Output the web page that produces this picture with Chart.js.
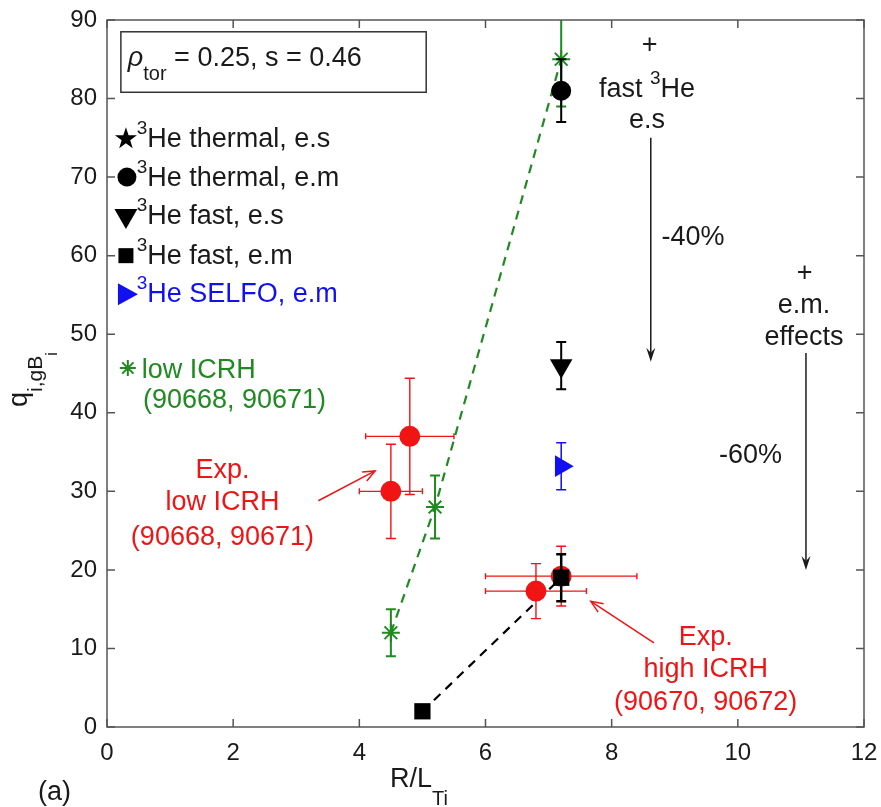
<!DOCTYPE html>
<html>
<head>
<meta charset="utf-8">
<title>Ion heat flux vs R/L_Ti</title>
<script src="https://cdn.jsdelivr.net/npm/chart.js@4.4.1/dist/chart.umd.min.js"></script>
<style>
  html, body { margin: 0; padding: 0; background: #fff; }
  canvas { display: block; }
</style>
</head>
<body>
<canvas id="chart" width="881" height="807"></canvas>
<script>
// ---- axis ticks ----
const xTicks = [0, 2, 4, 6, 8, 10, 12];
const yTicks = [0, 10, 20, 30, 40, 50, 60, 70, 80, 90];

// ---- GENE, low ICRH (90668, 90671) ----
const lowIcrhX = [4.5, 5.2, 7.2];
const lowIcrhY = [12, 28, 85];
const lowIcrhErr = [3, 4, 6];

// ---- experiment, low ICRH ----
const expLowX = [4.5, 4.8];
const expLowY = [30, 37];
const expLowXErr = [0.5, 0.7];
const expLowYErr = [6, 7.4];

// ---- experiment, high ICRH ----
const expHighX = [6.8, 7.2];
const expHighY = [17.3, 19.2];
const expHighXErr = [0.8, 1.2];
const expHighYErr = [3.5, 3.8];

// ---- 3He thermal, e.m ----
const thermalEmX = [7.2];
const thermalEmY = [81];
const thermalEmErr = [4];

// ---- 3He fast, e.s ----
const fastEsX = [7.2];
const fastEsY = [46];
const fastEsErr = [3];

// ---- 3He fast, e.m ----
const fastEmX = [5.0, 7.2];
const fastEmY = [2, 19];
const fastEmErr = [0, 3];

// ---- 3He SELFO, e.m ----
const selfoX = [7.2];
const selfoY = [33.2];
const selfoErr = [3];

const RED = '#f01414';
const GREEN = '#1f8a1f';
const BLUE = '#1010f0';
const INK = '#1a1a1a';
const AXIS = '#555';
const FAMILY = '"Liberation Sans", Arial, Helvetica, sans-serif';

const pts = (xs, ys) => xs.map((x, i) => ({ x, y: ys[i] }));
const font = r => `${r.italic ? 'italic ' : ''}${r.size}px ${FAMILY}`;

// draw a row of text pieces (sub/superscripts via dy)
function drawRuns(ctx, runs, x, y, align, color) {
  let w = 0;
  runs.forEach(r => { ctx.font = font(r); r.w = ctx.measureText(r.t).width; w += r.w; });
  let cx = align === 'center' ? x - w / 2 : x;
  ctx.fillStyle = color;
  ctx.textAlign = 'left';
  ctx.textBaseline = 'alphabetic';
  runs.forEach(r => {
    ctx.font = font(r);
    ctx.fillText(r.t, cx, y + (r.dy || 0));
    cx += r.w;
  });
}

function arrow(ctx, x1, y1, x2, y2, color, filled) {
  const a = Math.atan2(y2 - y1, x2 - x1);
  const len = filled ? 14 : 12, half = filled ? 4.5 : 5;
  ctx.save();
  ctx.strokeStyle = color;
  ctx.fillStyle = color;
  ctx.lineWidth = 1.5;
  ctx.beginPath();
  ctx.moveTo(x1, y1);
  ctx.lineTo(filled ? x2 - Math.cos(a) * 6 : x2, filled ? y2 - Math.sin(a) * 6 : y2);
  ctx.stroke();
  const bx = x2 - Math.cos(a) * len, by = y2 - Math.sin(a) * len;
  const nx = -Math.sin(a) * half, ny = Math.cos(a) * half;
  ctx.beginPath();
  if (filled) {
    ctx.moveTo(x2, y2);
    ctx.lineTo(bx + nx, by + ny);
    ctx.lineTo(x2 - Math.cos(a) * 9, y2 - Math.sin(a) * 9);
    ctx.lineTo(bx - nx, by - ny);
    ctx.closePath();
    ctx.fill();
  } else {
    ctx.moveTo(bx + nx, by + ny);
    ctx.lineTo(x2, y2);
    ctx.lineTo(bx - nx, by - ny);
    ctx.stroke();
  }
  ctx.restore();
}

// error bars under each dataset's markers
const errorBars = {
  id: 'errorBars',
  beforeDatasetDraw(chart, args) {
    const ds = chart.data.datasets[args.index];
    if (!ds.yErr && !ds.xErr) return;
    const { ctx, chartArea: ca, scales: { x, y } } = chart;
    ctx.save();
    ctx.beginPath();
    ctx.rect(ca.left, ca.top, ca.width, ca.height);
    ctx.clip();
    ctx.strokeStyle = ds.errColor;
    ctx.lineWidth = ds.errWidth || 1.5;
    ds.data.forEach((p, i) => {
      const px = x.getPixelForValue(p.x), py = y.getPixelForValue(p.y);
      ctx.beginPath();
      if (ds.yErr && ds.yErr[i]) {
        const t = y.getPixelForValue(p.y + ds.yErr[i]);
        const b = y.getPixelForValue(p.y - ds.yErr[i]);
        ctx.moveTo(px, t); ctx.lineTo(px, b);
        ctx.moveTo(px - 5, t); ctx.lineTo(px + 5, t);
        ctx.moveTo(px - 5, b); ctx.lineTo(px + 5, b);
      }
      if (ds.xErr && ds.xErr[i]) {
        const l = x.getPixelForValue(p.x - ds.xErr[i]);
        const r = x.getPixelForValue(p.x + ds.xErr[i]);
        ctx.moveTo(l, py); ctx.lineTo(r, py);
        ctx.moveTo(l, py - 3); ctx.lineTo(l, py + 3);
        ctx.moveTo(r, py - 3); ctx.lineTo(r, py + 3);
      }
      ctx.stroke();
    });
    ctx.restore();
  }
};

// boxed axes with inward ticks on all four sides
const frame = {
  id: 'frame',
  afterDatasetsDraw(chart) {
    const { ctx, chartArea: ca, scales: { x, y } } = chart;
    ctx.save();
    ctx.strokeStyle = AXIS;
    ctx.lineWidth = 1.5;
    ctx.strokeRect(ca.left, ca.top, ca.width, ca.height);
    ctx.beginPath();
    x.ticks.forEach(t => {
      const px = x.getPixelForValue(t.value);
      ctx.moveTo(px, ca.bottom); ctx.lineTo(px, ca.bottom - 8);
      ctx.moveTo(px, ca.top); ctx.lineTo(px, ca.top + 8);
    });
    y.ticks.forEach(t => {
      const py = y.getPixelForValue(t.value);
      ctx.moveTo(ca.left, py); ctx.lineTo(ca.left + 8, py);
      ctx.moveTo(ca.right, py); ctx.lineTo(ca.right - 8, py);
    });
    ctx.stroke();
    ctx.restore();
  }
};

// text, legend glyphs and arrows
const notes = {
  id: 'notes',
  afterDraw(chart) {
    const { ctx, scales: { x, y } } = chart;
    const X = v => x.getPixelForValue(v), Y = v => y.getPixelForValue(v);

    // parameter box
    ctx.save();
    ctx.strokeStyle = '#333';
    ctx.lineWidth = 1.5;
    ctx.strokeRect(X(0.22), Y(88.5), X(5.06) - X(0.22), Y(80.8) - Y(88.5));
    ctx.restore();
    drawRuns(ctx, [
      { t: '\u03C1', size: 27, italic: true },
      { t: 'tor', size: 20, dy: 14 },
      { t: ' = 0.25, s = 0.46', size: 27 }
    ], X(0.33), Y(84.2), 'left', INK);

    // legend glyphs
    const gx = X(0.30);
    ctx.save();
    ctx.fillStyle = '#000';
    // five-point star
    let cy = Y(75.0);
    ctx.beginPath();
    for (let k = 0; k < 10; k++) {
      const r = k % 2 ? 4.5 : 11.5;
      const a = -Math.PI / 2 + k * Math.PI / 5;
      ctx.lineTo(gx + r * Math.cos(a), cy + 1 + r * Math.sin(a));
    }
    ctx.closePath();
    ctx.fill();
    // circle
    ctx.beginPath();
    ctx.arc(gx + 1, Y(70.0), 9.5, 0, Math.PI * 2);
    ctx.fill();
    // down triangle
    cy = Y(64.8);
    ctx.beginPath();
    ctx.moveTo(gx - 11.5, cy - 9);
    ctx.lineTo(gx + 11.5, cy - 9);
    ctx.lineTo(gx, cy + 11);
    ctx.closePath();
    ctx.fill();
    // square
    cy = Y(60.0);
    ctx.fillRect(gx - 7.5, cy - 7.5, 15, 15);
    // blue right triangle
    cy = Y(55.1);
    ctx.fillStyle = BLUE;
    ctx.beginPath();
    ctx.moveTo(gx - 8, cy - 11);
    ctx.lineTo(gx + 12, cy);
    ctx.lineTo(gx - 8, cy + 11);
    ctx.closePath();
    ctx.fill();
    ctx.restore();

    const legendRows = [
      ['He thermal, e.s', 73.8, INK],
      ['He thermal, e.m', 68.9, INK],
      ['He fast, e.s', 64.0, INK],
      ['He fast, e.m', 59.0, INK],
      ['He SELFO, e.m', 54.1, BLUE]
    ];
    legendRows.forEach(([t, v, c]) => {
      drawRuns(ctx, [{ t: '3', size: 19, dy: -13 }, { t, size: 27 }], X(0.47), Y(v), 'left', c);
    });

    // low ICRH (green) label
    ctx.save();
    ctx.strokeStyle = GREEN;
    ctx.lineWidth = 2;
    const ax = X(0.33), ay = Y(45.7);
    ctx.beginPath();
    for (let k = 0; k < 4; k++) {
      const a = k * Math.PI / 4;
      ctx.moveTo(ax - 8 * Math.cos(a), ay - 8 * Math.sin(a));
      ctx.lineTo(ax + 8 * Math.cos(a), ay + 8 * Math.sin(a));
    }
    ctx.stroke();
    ctx.restore();
    drawRuns(ctx, [{ t: 'low ICRH', size: 27 }], X(0.55), Y(44.4), 'left', GREEN);
    drawRuns(ctx, [{ t: '(90668, 90671)', size: 27 }], X(0.57), Y(40.6), 'left', GREEN);

    // experimental labels
    [['Exp.', 31.7], ['low ICRH', 27.6], ['(90668, 90671)', 23.2]].forEach(([t, v]) =>
      drawRuns(ctx, [{ t, size: 27 }], X(1.83), Y(v), 'center', RED));
    arrow(ctx, X(3.35), Y(28.8), X(4.25), Y(32.6), RED, false);

    [['Exp.', 10.4], ['high ICRH', 6.4], ['(90670, 90672)', 2.2]].forEach(([t, v]) =>
      drawRuns(ctx, [{ t, size: 27 }], X(9.49), Y(v), 'center', RED));
    arrow(ctx, X(8.67), Y(10.7), X(7.67), Y(16.0), RED, false);

    // fast 3He / e.m. effects steps
    drawRuns(ctx, [{ t: '+', size: 27 }], X(8.6), Y(85.8), 'center', INK);
    drawRuns(ctx, [{ t: 'fast ', size: 27 }, { t: '3', size: 19, dy: -13 }, { t: 'He', size: 27 }], X(8.56), Y(80.2), 'center', INK);
    drawRuns(ctx, [{ t: 'e.s', size: 27 }], X(8.56), Y(76.3), 'center', INK);
    arrow(ctx, X(8.62), Y(75.0), X(8.62), Y(46.5), INK, true);
    drawRuns(ctx, [{ t: '-40%', size: 27 }], X(8.79), Y(61.4), 'left', INK);

    drawRuns(ctx, [{ t: '+', size: 27 }], X(11.06), Y(56.8), 'center', INK);
    drawRuns(ctx, [{ t: 'e.m.', size: 27 }], X(11.05), Y(52.7), 'center', INK);
    drawRuns(ctx, [{ t: 'effects', size: 27 }], X(11.05), Y(48.6), 'center', INK);
    arrow(ctx, X(11.08), Y(47.6), X(11.08), Y(20.0), INK, true);
    drawRuns(ctx, [{ t: '-60%', size: 27 }], X(9.70), Y(33.6), 'left', INK);

    // axis titles
    ctx.save();
    ctx.translate(27, 407);
    ctx.rotate(-Math.PI / 2);
    drawRuns(ctx, [
      { t: 'q', size: 27 },
      { t: 'i,gB', size: 21, dy: 15 },
      { t: 'i', size: 16, dy: 30 }
    ], 0, 0, 'left', INK);
    ctx.restore();
    drawRuns(ctx, [{ t: 'R/L', size: 27 }, { t: 'Ti', size: 20, dy: 18 }], 390, 787, 'left', INK);
    drawRuns(ctx, [{ t: '(a)', size: 27 }], 38, 800, 'left', INK);
  }
};

const tickFont = { family: FAMILY, size: 24 };

new Chart(document.getElementById('chart'), {
  type: 'scatter',
  data: {
    datasets: [
      {
        // green dashed trend through the low ICRH points
        data: pts(lowIcrhX, lowIcrhY),
        showLine: true, borderColor: GREEN, borderWidth: 2.2, borderDash: [9, 7],
        pointRadius: 0, order: 10
      },
      {
        data: pts(fastEmX, fastEmY),
        showLine: true, borderColor: '#000', borderWidth: 2.2, borderDash: [9, 7],
        pointRadius: 0, order: 9
      },
      {
        label: 'low ICRH (90668, 90671)',
        data: pts(lowIcrhX, lowIcrhY),
        yErr: lowIcrhErr, errColor: GREEN, errWidth: 2,
        pointStyle: 'star', pointRadius: 9, borderColor: GREEN, borderWidth: 2, order: 8
      },
      {
        label: 'Exp. low ICRH',
        data: pts(expLowX, expLowY),
        xErr: expLowXErr, yErr: expLowYErr, errColor: RED, errWidth: 1.4,
        pointStyle: 'circle', pointRadius: 10.5, backgroundColor: RED, borderColor: RED, borderWidth: 0, order: 7
      },
      {
        label: 'Exp. high ICRH',
        data: pts(expHighX, expHighY),
        xErr: expHighXErr, yErr: expHighYErr, errColor: RED, errWidth: 1.4,
        pointStyle: 'circle', pointRadius: 10.5, backgroundColor: RED, borderColor: RED, borderWidth: 0, order: 6
      },
      {
        label: '3He SELFO, e.m',
        data: pts(selfoX, selfoY),
        yErr: selfoErr, errColor: BLUE, errWidth: 1.5,
        pointStyle: 'triangle', pointRotation: 90, pointRadius: 12.5,
        backgroundColor: BLUE, borderColor: BLUE, borderWidth: 0, order: 5
      },
      {
        label: '3He fast, e.s',
        data: pts(fastEsX, fastEsY),
        yErr: fastEsErr, errColor: '#000', errWidth: 2,
        pointStyle: 'triangle', pointRotation: 180, pointRadius: 13,
        backgroundColor: '#000', borderColor: '#000', borderWidth: 0, order: 4
      },
      {
        label: '3He thermal, e.m',
        data: pts(thermalEmX, thermalEmY),
        yErr: thermalEmErr, errColor: '#000', errWidth: 2,
        pointStyle: 'circle', pointRadius: 10, backgroundColor: '#000', borderColor: '#000', borderWidth: 0, order: 3
      },
      {
        label: '3He fast, e.m',
        data: pts(fastEmX, fastEmY),
        yErr: fastEmErr, errColor: '#000', errWidth: 2.5,
        pointStyle: 'rect', pointRadius: 11.5, backgroundColor: '#000', borderColor: '#000', borderWidth: 0, order: 2
      }
    ]
  },
  options: {
    responsive: false,
    animation: false,
    events: [],
    layout: { padding: { left: 0, top: 20, right: 17, bottom: 0 } },
    plugins: { legend: { display: false }, tooltip: { enabled: false } },
    scales: {
      x: {
        type: 'linear', min: 0, max: 12,
        afterBuildTicks: s => { s.ticks = xTicks.map(v => ({ value: v })); },
        ticks: { font: tickFont, color: INK, padding: 12, maxRotation: 0 },
        grid: { display: false, drawTicks: false },
        border: { display: false },
        afterFit: s => { s.height = 80; s.paddingLeft = 0; s.paddingRight = 0; }
      },
      y: {
        type: 'linear', min: 0, max: 90,
        afterBuildTicks: s => { s.ticks = yTicks.map(v => ({ value: v })); },
        ticks: { font: tickFont, color: INK, padding: 10 },
        grid: { display: false, drawTicks: false },
        border: { display: false },
        afterFit: s => { s.width = 107; s.paddingTop = 0; s.paddingBottom = 0; }
      }
    }
  },
  plugins: [errorBars, frame, notes]
});
</script>
</body>
</html>
